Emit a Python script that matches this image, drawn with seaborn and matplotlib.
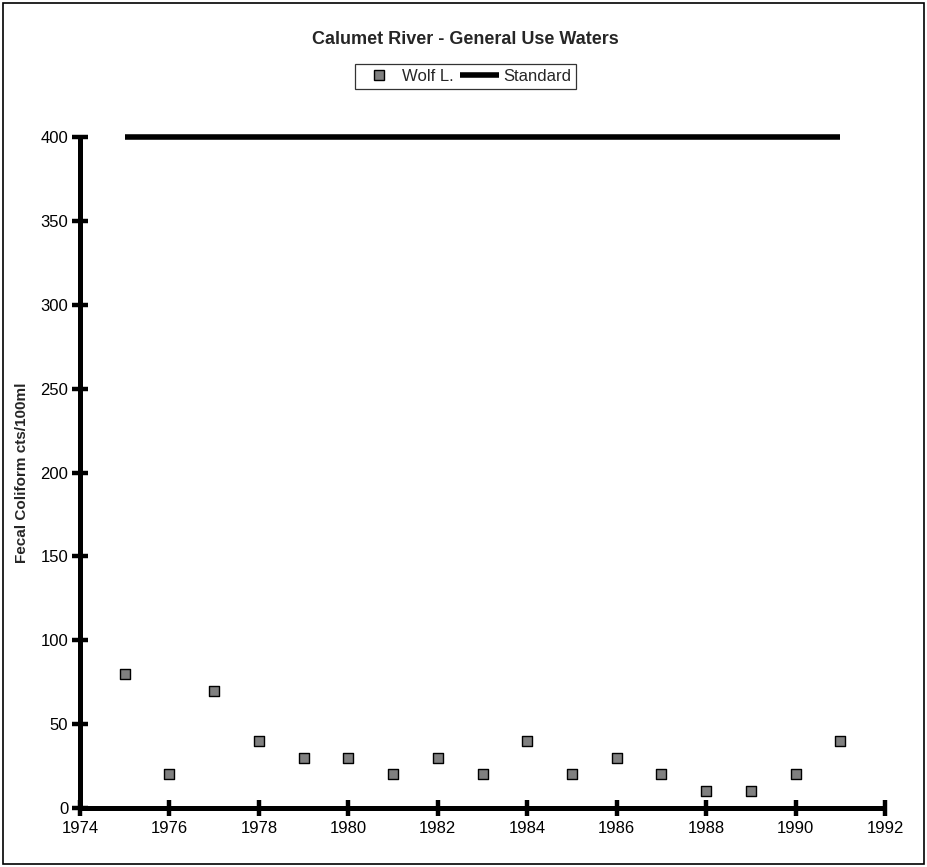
import matplotlib
matplotlib.use("Agg")
import matplotlib.pyplot as plt
from matplotlib.lines import Line2D
from matplotlib.patches import Rectangle
import seaborn as sns
import pandas as pd

years = [1975, 1976, 1977, 1978, 1979, 1980, 1981, 1982, 1983,
         1984, 1985, 1986, 1987, 1988, 1989, 1990, 1991]
wolf_lake = [80, 20, 70, 40, 30, 30, 20, 30, 20, 40, 20, 30, 20, 10, 10, 20, 40]
standard_years = [1975, 1991]
standard_values = [400, 400]
x_ticks = [1974, 1976, 1978, 1980, 1982, 1984, 1986, 1988, 1990, 1992]
y_ticks = [0, 50, 100, 150, 200, 250, 300, 350, 400]

sns.set_style("white")
plt.rcParams["font.family"] = ["Liberation Sans", "DejaVu Sans"]

fig = plt.figure(figsize=(9.27, 8.67), dpi=100)
ax = fig.add_axes([0.0863, 0.068, 0.8684, 0.774])

df = pd.DataFrame({"year": years, "count": wolf_lake})
std = pd.DataFrame({"year": standard_years, "count": standard_values})

sns.lineplot(data=std, x="year", y="count", ax=ax, color="black")
for ln in ax.lines:
    ln.set_linewidth(4.0)
    ln.set_solid_capstyle("butt")
    ln.set_clip_on(False)
sns.scatterplot(data=df, x="year", y="count", ax=ax, marker="s", s=56,
                color="#808080", edgecolor="black", linewidth=1.0, zorder=3)

ax.set_xlim(1974, 1992)
ax.set_ylim(0, 400)
ax.set_xticks(x_ticks)
ax.set_yticks(y_ticks)
ax.set_xticklabels([str(t) for t in x_ticks], fontsize=12)
ax.set_yticklabels([str(t) for t in y_ticks], fontsize=12)
ax.tick_params(axis="both", direction="inout", length=11, width=3.2,
               color="black", labelcolor="black", left=True, bottom=True)
ax.tick_params(axis="x", pad=4)
ax.tick_params(axis="y", pad=3)

for side in ("top", "right"):
    ax.spines[side].set_visible(False)
for side in ("left", "bottom"):
    ax.spines[side].set_linewidth(3.6)
    ax.spines[side].set_color("black")
    ax.spines[side].set_capstyle("butt")

ax.set_xlabel("")
ax.set_ylabel("Fecal Coliform cts/100ml", fontsize=11, fontweight="bold")
ax.yaxis.set_label_coords(-0.063, 0.5)

fig.text(0.502, 0.954, "Calumet River - General Use Waters", ha="center",
         va="center", fontsize=13, fontweight="bold")

handles = [
    Line2D([], [], marker="s", linestyle="none", markersize=7.4,
           markerfacecolor="#808080", markeredgecolor="black",
           markeredgewidth=1.0),
    Line2D([], [], color="black", linewidth=4.0, solid_capstyle="butt"),
]
leg = fig.legend(handles, ["Wolf L.", "Standard"], ncol=2,
                 loc="center", bbox_to_anchor=(0.502, 0.912),
                 frameon=True, fancybox=False, fontsize=12,
                 handlelength=2.3, handletextpad=0.25, columnspacing=0.4,
                 borderpad=0.3)
leg.get_frame().set_edgecolor("black")
leg.get_frame().set_linewidth(0.9)

fig.patches.append(Rectangle((0.003, 0.004), 0.994, 0.993,
                             transform=fig.transFigure, fill=False,
                             edgecolor="black", linewidth=1.2))

fig.savefig("out.png", dpi=100, facecolor="white")
